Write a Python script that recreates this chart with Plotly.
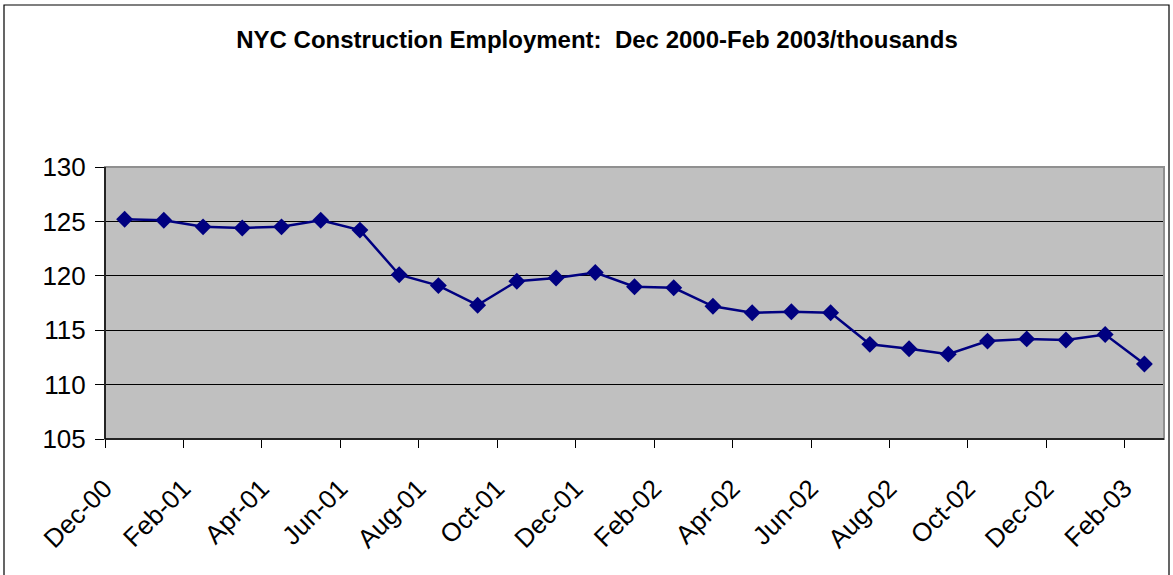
import plotly.graph_objects as go

months = ["Dec-00", "Jan-01", "Feb-01", "Mar-01", "Apr-01", "May-01", "Jun-01",
          "Jul-01", "Aug-01", "Sep-01", "Oct-01", "Nov-01", "Dec-01", "Jan-02",
          "Feb-02", "Mar-02", "Apr-02", "May-02", "Jun-02", "Jul-02", "Aug-02",
          "Sep-02", "Oct-02", "Nov-02", "Dec-02", "Jan-03", "Feb-03"]
employment = [125.2, 125.1, 124.5, 124.4, 124.5, 125.1, 124.2,
              120.1, 119.1, 117.3, 119.5, 119.8, 120.3, 119.0,
              118.9, 117.2, 116.6, 116.7, 116.6, 113.7, 113.3,
              112.8, 114.0, 114.2, 114.1, 114.6, 111.9]
y_ticks = [105, 110, 115, 120, 125, 130]

idx = list(range(len(months)))
label_idx = idx[::2]
label_text = [months[i] for i in label_idx]
boundary_ticks = [i - 0.5 for i in label_idx]

FONT = "Liberation Sans, Arial, sans-serif"

fig = go.Figure()
fig.add_trace(go.Scatter(
    x=idx, y=employment, mode="lines+markers",
    line=dict(color="#000080", width=2.5),
    marker=dict(symbol="diamond", size=13, color="#000080"),
    hoverinfo="x+y",
))

W, H = 1173, 575
L, R, T, B = 105, 1164, 167, 439
pw, ph = R - L, B - T

def px(x):
    return (x - L) / pw

def py(y):
    return (B - y) / ph

fig.update_layout(
    width=W, height=H,
    margin=dict(l=L, r=W - R, t=T, b=H - B, pad=0),
    paper_bgcolor="white",
    plot_bgcolor="#C0C0C0",
    showlegend=False,
    font=dict(family=FONT, color="black"),
    title=dict(
        text="<b>NYC Construction Employment:  Dec 2000-Feb 2003/thousands</b>",
        x=597 / W, xanchor="center",
        y=1 - 40 / H, yanchor="middle",
        font=dict(family=FONT, size=24, color="black"),
    ),
    xaxis=dict(
        range=[-0.5, len(months) - 0.5],
        tickmode="array", tickvals=label_idx, ticktext=label_text,
        tickangle=-45, ticks="", showgrid=False, zeroline=False,
        tickfont=dict(family=FONT, size=26, color="black"),
        ticklabelshift=-20, ticklabelstandoff=28,
        showline=False,
        minor=dict(tickmode="array", tickvals=boundary_ticks, ticks="outside",
                   ticklen=8, tickwidth=1, tickcolor="black", showgrid=False),
    ),
    yaxis=dict(
        range=[105, 130], tickmode="array", tickvals=y_ticks,
        ticks="outside", ticklen=9, tickwidth=1, tickcolor="black",
        showgrid=True, gridcolor="black", gridwidth=1,
        zeroline=False, showline=False,
        tickfont=dict(family=FONT, size=26, color="black"),
        ticklabelstandoff=4,
    ),
    shapes=[
        dict(type="rect", xref="paper", yref="paper", x0=0, x1=1, y0=0, y1=1,
             line=dict(color="#909090", width=2), layer="above"),
        dict(type="line", xref="paper", yref="paper", x0=0, x1=0, y0=0, y1=1,
             line=dict(color="black", width=1.5), layer="above"),
        dict(type="line", xref="paper", yref="paper", x0=0, x1=1, y0=0, y1=0,
             line=dict(color="black", width=1.5), layer="above"),
        dict(type="rect", xref="paper", yref="paper",
             x0=px(4), x1=px(1169), y0=py(600), y1=py(5),
             line=dict(color="black", width=1.2), layer="above"),
    ],
)

fig.write_html("out.html")
